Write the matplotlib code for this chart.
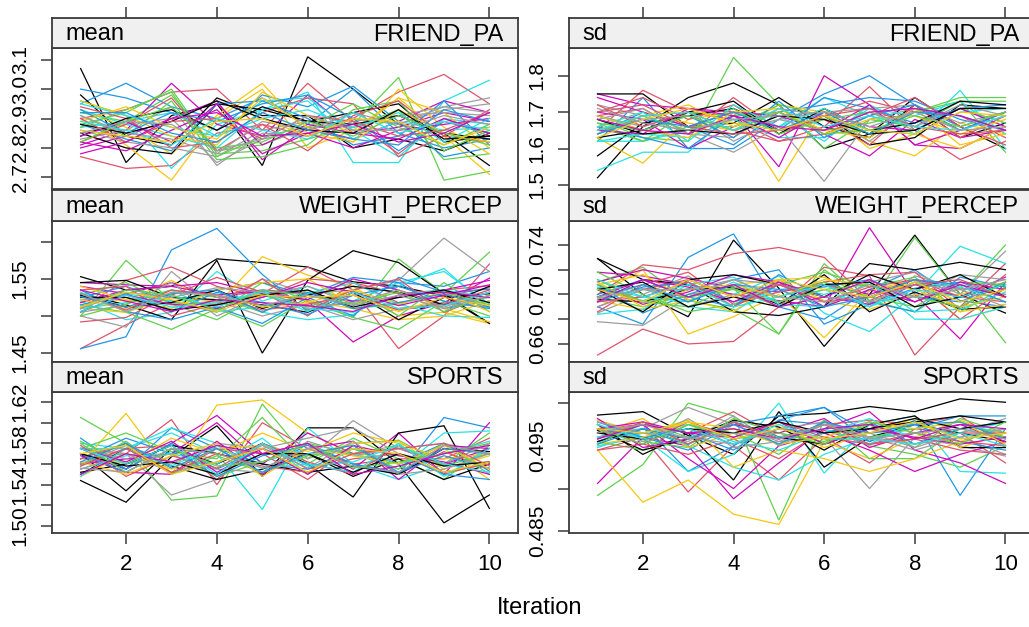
import matplotlib
matplotlib.use("Agg")
import matplotlib.pyplot as plt

plt.rcParams["font.family"] = ["Liberation Sans", "DejaVu Sans"]

ITERATIONS = [1, 2, 3, 4, 5, 6, 7, 8, 9, 10]
VARIABLES = ["FRIEND_PA", "WEIGHT_PERCEP", "SPORTS"]
STATS = ["mean", "sd"]

# R default palette, recycled over the imputation streams
PALETTE = ["black", "#DF536B", "#61D04F", "#2297E6",
           "#28E2E5", "#CD0BBC", "#F5C710", "#9E9E9E"]

friend_pa_mean = [
    [3.07, 2.75, 2.91, 2.95, 2.74, 3.11, 3.00, 2.88, 2.85, 2.74],
    [2.77, 2.73, 2.74, 2.85, 2.88, 2.84, 2.90, 2.99, 3.05, 2.95],
    [2.92, 2.89, 2.98, 2.79, 2.81, 2.87, 2.88, 3.04, 2.69, 2.72],
    [2.95, 3.02, 2.94, 2.90, 2.97, 2.88, 3.00, 2.85, 2.80, 2.83],
    [2.96, 2.91, 2.73, 2.88, 2.93, 2.99, 2.75, 2.75, 2.96, 3.03],
    [2.81, 2.86, 3.02, 2.88, 2.84, 2.98, 2.85, 2.87, 2.92, 2.89],
    [2.90, 2.81, 2.69, 2.90, 3.00, 2.80, 2.86, 2.97, 2.84, 2.71],
    [2.85, 2.88, 2.90, 2.75, 2.83, 2.86, 2.90, 2.88, 2.93, 2.95],
    [2.98, 2.84, 2.81, 2.97, 2.91, 2.91, 2.80, 2.83, 2.79, 2.85],
    [2.90, 2.93, 2.99, 3.00, 2.86, 3.02, 2.89, 2.78, 2.90, 2.84],
    [2.88, 2.92, 3.00, 2.78, 2.79, 2.83, 2.87, 2.93, 2.76, 2.78],
    [3.00, 2.97, 2.92, 2.86, 2.98, 2.94, 3.01, 2.89, 2.77, 2.80],
    [2.87, 2.89, 2.92, 2.84, 2.96, 2.97, 2.86, 2.77, 2.90, 2.88],
    [2.80, 2.84, 2.90, 2.96, 2.76, 2.87, 2.83, 2.89, 2.96, 2.92],
    [2.93, 2.87, 2.78, 2.91, 3.02, 2.85, 2.82, 3.00, 2.87, 2.78],
    [2.83, 2.86, 2.94, 2.74, 2.85, 2.84, 2.89, 2.91, 2.94, 2.97],
    [2.85, 2.80, 2.78, 2.95, 2.93, 2.89, 2.92, 2.95, 2.82, 2.84],
    [2.94, 2.90, 2.80, 2.82, 2.92, 2.97, 2.95, 2.77, 2.84, 2.93],
    [2.91, 2.84, 2.96, 2.76, 2.77, 2.81, 2.93, 2.96, 2.79, 2.86],
    [2.88, 2.83, 2.79, 2.95, 2.96, 2.90, 2.81, 2.84, 2.96, 2.81],
    [2.93, 2.88, 2.84, 2.80, 2.93, 2.96, 2.83, 2.89, 2.86, 2.87],
    [2.82, 2.79, 2.86, 2.93, 2.78, 2.85, 2.80, 2.86, 2.88, 2.90],
    [2.96, 2.91, 2.84, 2.81, 2.99, 2.91, 2.85, 2.97, 2.92, 2.80],
    [2.86, 2.82, 2.80, 2.77, 2.86, 2.89, 2.87, 2.91, 2.92, 2.91],
    [2.84, 2.90, 2.93, 2.86, 2.94, 2.89, 2.88, 2.91, 2.85, 2.83],
    [2.82, 2.88, 2.97, 2.79, 2.88, 2.79, 2.91, 2.96, 2.84, 2.82],
    [2.87, 2.93, 2.99, 2.77, 2.84, 2.87, 2.95, 2.87, 2.81, 2.88],
    [2.93, 2.85, 2.92, 2.89, 2.95, 2.98, 2.90, 2.79, 2.89, 2.85],
    [2.95, 2.91, 2.87, 2.84, 2.90, 2.93, 2.87, 2.92, 2.82, 2.90],
    [2.84, 2.89, 2.82, 2.95, 2.81, 2.88, 2.85, 2.83, 2.90, 2.85],
    [2.89, 2.94, 2.87, 2.83, 2.97, 2.87, 2.82, 2.93, 2.85, 2.82],
    [2.91, 2.85, 2.83, 2.78, 2.89, 2.86, 2.92, 2.88, 2.94, 2.92],
    [2.88, 2.85, 2.89, 2.96, 2.90, 2.86, 2.85, 2.93, 2.83, 2.84],
    [2.90, 2.82, 2.89, 2.90, 2.83, 2.91, 2.89, 2.84, 2.86, 2.92],
    [2.82, 2.89, 2.94, 2.80, 2.82, 2.89, 2.84, 2.91, 2.85, 2.81],
    [2.92, 2.92, 2.85, 2.82, 2.92, 2.86, 2.83, 2.81, 2.93, 2.89],
    [2.89, 2.86, 2.81, 2.90, 2.86, 2.83, 2.92, 2.85, 2.89, 2.86],
    [2.78, 2.82, 2.90, 2.92, 2.84, 2.85, 2.88, 2.82, 2.85, 2.92],
    [2.86, 2.84, 2.82, 2.89, 2.90, 2.84, 2.90, 2.89, 2.81, 2.87],
    [2.85, 2.89, 2.88, 2.79, 2.83, 2.91, 2.86, 2.86, 2.91, 2.88],
]

friend_pa_sd = [
    [1.52, 1.66, 1.74, 1.78, 1.72, 1.60, 1.64, 1.74, 1.66, 1.60],
    [1.65, 1.76, 1.70, 1.68, 1.62, 1.66, 1.77, 1.65, 1.57, 1.62],
    [1.68, 1.63, 1.62, 1.85, 1.72, 1.60, 1.68, 1.66, 1.73, 1.73],
    [1.62, 1.74, 1.60, 1.60, 1.68, 1.75, 1.80, 1.72, 1.66, 1.70],
    [1.54, 1.59, 1.59, 1.70, 1.66, 1.74, 1.69, 1.64, 1.76, 1.60],
    [1.75, 1.72, 1.71, 1.70, 1.55, 1.80, 1.72, 1.61, 1.60, 1.66],
    [1.63, 1.56, 1.68, 1.70, 1.51, 1.71, 1.62, 1.58, 1.67, 1.64],
    [1.72, 1.69, 1.64, 1.59, 1.66, 1.51, 1.68, 1.71, 1.65, 1.69],
    [1.75, 1.75, 1.66, 1.67, 1.74, 1.66, 1.63, 1.72, 1.63, 1.67],
    [1.70, 1.74, 1.68, 1.72, 1.64, 1.69, 1.73, 1.70, 1.69, 1.63],
    [1.66, 1.62, 1.70, 1.69, 1.70, 1.65, 1.67, 1.70, 1.73, 1.59],
    [1.64, 1.70, 1.66, 1.61, 1.70, 1.72, 1.74, 1.73, 1.68, 1.65],
    [1.62, 1.62, 1.65, 1.68, 1.69, 1.62, 1.72, 1.66, 1.71, 1.67],
    [1.70, 1.68, 1.60, 1.66, 1.70, 1.64, 1.58, 1.68, 1.63, 1.65],
    [1.66, 1.70, 1.67, 1.65, 1.72, 1.70, 1.60, 1.64, 1.60, 1.66],
    [1.69, 1.66, 1.70, 1.62, 1.68, 1.70, 1.71, 1.72, 1.67, 1.70],
    [1.58, 1.67, 1.69, 1.71, 1.65, 1.69, 1.61, 1.63, 1.72, 1.71],
    [1.69, 1.71, 1.64, 1.74, 1.65, 1.68, 1.61, 1.72, 1.63, 1.69],
    [1.67, 1.62, 1.66, 1.66, 1.72, 1.69, 1.64, 1.70, 1.74, 1.74],
    [1.66, 1.63, 1.60, 1.69, 1.65, 1.74, 1.71, 1.67, 1.71, 1.72],
    [1.62, 1.64, 1.63, 1.68, 1.63, 1.63, 1.71, 1.69, 1.73, 1.64],
    [1.74, 1.70, 1.66, 1.70, 1.69, 1.65, 1.72, 1.61, 1.65, 1.70],
    [1.64, 1.69, 1.72, 1.66, 1.70, 1.65, 1.63, 1.71, 1.61, 1.64],
    [1.68, 1.71, 1.64, 1.63, 1.71, 1.69, 1.62, 1.71, 1.69, 1.65],
    [1.63, 1.65, 1.70, 1.73, 1.64, 1.71, 1.65, 1.67, 1.73, 1.72],
    [1.72, 1.66, 1.70, 1.65, 1.62, 1.64, 1.69, 1.74, 1.66, 1.61],
    [1.64, 1.69, 1.65, 1.71, 1.64, 1.68, 1.70, 1.65, 1.71, 1.67],
    [1.69, 1.65, 1.69, 1.63, 1.73, 1.63, 1.69, 1.72, 1.65, 1.70],
    [1.66, 1.70, 1.62, 1.72, 1.66, 1.71, 1.65, 1.64, 1.70, 1.71],
    [1.65, 1.64, 1.71, 1.69, 1.63, 1.70, 1.66, 1.65, 1.71, 1.66],
    [1.69, 1.65, 1.63, 1.70, 1.71, 1.64, 1.68, 1.69, 1.64, 1.68],
    [1.65, 1.68, 1.69, 1.65, 1.68, 1.65, 1.70, 1.66, 1.72, 1.69],
    [1.68, 1.64, 1.65, 1.64, 1.69, 1.68, 1.64, 1.65, 1.71, 1.71],
    [1.70, 1.72, 1.66, 1.64, 1.65, 1.69, 1.71, 1.66, 1.64, 1.65],
    [1.67, 1.65, 1.69, 1.65, 1.70, 1.64, 1.65, 1.69, 1.66, 1.70],
    [1.64, 1.68, 1.66, 1.70, 1.65, 1.70, 1.64, 1.70, 1.69, 1.65],
    [1.65, 1.69, 1.70, 1.65, 1.71, 1.66, 1.69, 1.66, 1.65, 1.69],
    [1.68, 1.65, 1.64, 1.69, 1.66, 1.65, 1.70, 1.71, 1.69, 1.65],
    [1.63, 1.68, 1.71, 1.67, 1.65, 1.69, 1.65, 1.64, 1.70, 1.69],
    [1.71, 1.67, 1.65, 1.68, 1.69, 1.70, 1.66, 1.70, 1.65, 1.66],
]

weight_percep_mean = [
    [1.553, 1.535, 1.540, 1.577, 1.572, 1.566, 1.546, 1.540, 1.527, 1.490],
    [1.456, 1.488, 1.518, 1.515, 1.530, 1.566, 1.535, 1.456, 1.500, 1.570],
    [1.500, 1.575, 1.520, 1.505, 1.545, 1.520, 1.498, 1.577, 1.530, 1.586],
    [1.456, 1.472, 1.589, 1.618, 1.556, 1.506, 1.520, 1.545, 1.540, 1.560],
    [1.520, 1.495, 1.505, 1.560, 1.520, 1.540, 1.520, 1.545, 1.560, 1.516],
    [1.540, 1.530, 1.545, 1.525, 1.534, 1.520, 1.465, 1.500, 1.518, 1.551],
    [1.525, 1.520, 1.548, 1.515, 1.580, 1.555, 1.540, 1.500, 1.505, 1.490],
    [1.500, 1.485, 1.560, 1.510, 1.550, 1.530, 1.535, 1.548, 1.605, 1.560],
    [1.530, 1.515, 1.495, 1.575, 1.450, 1.548, 1.588, 1.572, 1.530, 1.490],
    [1.510, 1.548, 1.566, 1.540, 1.525, 1.550, 1.545, 1.530, 1.535, 1.541],
    [1.515, 1.505, 1.482, 1.510, 1.486, 1.522, 1.498, 1.482, 1.520, 1.500],
    [1.525, 1.540, 1.518, 1.535, 1.545, 1.528, 1.552, 1.545, 1.510, 1.520],
    [1.505, 1.530, 1.520, 1.530, 1.505, 1.495, 1.502, 1.540, 1.564, 1.510],
    [1.545, 1.542, 1.540, 1.528, 1.535, 1.530, 1.520, 1.525, 1.535, 1.548],
    [1.510, 1.505, 1.525, 1.520, 1.530, 1.520, 1.510, 1.495, 1.500, 1.520],
    [1.522, 1.525, 1.515, 1.520, 1.500, 1.515, 1.495, 1.510, 1.515, 1.525],
    [1.545, 1.548, 1.525, 1.522, 1.515, 1.505, 1.532, 1.495, 1.525, 1.530],
    [1.492, 1.498, 1.528, 1.552, 1.532, 1.500, 1.545, 1.518, 1.527, 1.538],
    [1.528, 1.545, 1.516, 1.495, 1.528, 1.512, 1.535, 1.500, 1.545, 1.506],
    [1.535, 1.506, 1.495, 1.512, 1.490, 1.525, 1.500, 1.552, 1.532, 1.536],
    [1.510, 1.518, 1.535, 1.506, 1.512, 1.530, 1.545, 1.516, 1.500, 1.498],
    [1.518, 1.535, 1.540, 1.545, 1.530, 1.522, 1.550, 1.535, 1.515, 1.532],
    [1.540, 1.522, 1.510, 1.535, 1.545, 1.550, 1.515, 1.535, 1.510, 1.492],
    [1.505, 1.515, 1.545, 1.500, 1.528, 1.540, 1.516, 1.510, 1.518, 1.512],
    [1.528, 1.512, 1.518, 1.535, 1.510, 1.528, 1.540, 1.532, 1.515, 1.540],
    [1.535, 1.540, 1.500, 1.516, 1.550, 1.508, 1.535, 1.550, 1.505, 1.528],
    [1.500, 1.516, 1.535, 1.525, 1.505, 1.535, 1.510, 1.516, 1.532, 1.515],
    [1.515, 1.530, 1.506, 1.532, 1.518, 1.502, 1.528, 1.540, 1.520, 1.510],
    [1.532, 1.506, 1.528, 1.512, 1.535, 1.510, 1.505, 1.528, 1.535, 1.525],
    [1.506, 1.528, 1.516, 1.510, 1.525, 1.545, 1.532, 1.514, 1.528, 1.542],
    [1.522, 1.510, 1.532, 1.528, 1.512, 1.518, 1.535, 1.516, 1.532, 1.506],
    [1.510, 1.532, 1.525, 1.538, 1.532, 1.512, 1.518, 1.535, 1.512, 1.532],
    [1.525, 1.525, 1.508, 1.515, 1.528, 1.535, 1.512, 1.525, 1.535, 1.518],
    [1.530, 1.508, 1.535, 1.528, 1.508, 1.516, 1.528, 1.508, 1.516, 1.535],
    [1.512, 1.535, 1.528, 1.508, 1.535, 1.528, 1.516, 1.532, 1.506, 1.528],
    [1.526, 1.512, 1.530, 1.535, 1.505, 1.532, 1.510, 1.518, 1.530, 1.512],
    [1.506, 1.528, 1.512, 1.518, 1.532, 1.506, 1.532, 1.510, 1.514, 1.532],
    [1.535, 1.520, 1.506, 1.522, 1.518, 1.514, 1.506, 1.528, 1.532, 1.525],
    [1.512, 1.532, 1.522, 1.506, 1.528, 1.525, 1.528, 1.506, 1.525, 1.514],
    [1.530, 1.506, 1.532, 1.528, 1.514, 1.528, 1.514, 1.528, 1.510, 1.528],
]

weight_percep_sd = [
    [0.729, 0.700, 0.682, 0.744, 0.705, 0.658, 0.700, 0.748, 0.700, 0.685],
    [0.651, 0.672, 0.660, 0.662, 0.690, 0.722, 0.715, 0.651, 0.690, 0.725],
    [0.710, 0.722, 0.695, 0.688, 0.668, 0.725, 0.692, 0.746, 0.700, 0.740],
    [0.690, 0.676, 0.730, 0.749, 0.690, 0.680, 0.704, 0.720, 0.695, 0.690],
    [0.705, 0.695, 0.705, 0.700, 0.715, 0.685, 0.670, 0.700, 0.739, 0.725],
    [0.718, 0.715, 0.708, 0.700, 0.695, 0.690, 0.754, 0.700, 0.664, 0.710],
    [0.700, 0.720, 0.668, 0.682, 0.700, 0.665, 0.703, 0.712, 0.680, 0.690],
    [0.685, 0.700, 0.715, 0.690, 0.712, 0.690, 0.710, 0.718, 0.700, 0.735],
    [0.729, 0.712, 0.708, 0.686, 0.683, 0.690, 0.725, 0.720, 0.726, 0.720],
    [0.700, 0.724, 0.720, 0.733, 0.738, 0.730, 0.695, 0.710, 0.680, 0.705],
    [0.698, 0.690, 0.700, 0.705, 0.668, 0.720, 0.695, 0.686, 0.708, 0.661],
    [0.708, 0.685, 0.700, 0.712, 0.720, 0.676, 0.692, 0.705, 0.710, 0.698],
    [0.695, 0.705, 0.690, 0.686, 0.708, 0.700, 0.710, 0.680, 0.680, 0.690],
    [0.710, 0.720, 0.713, 0.705, 0.702, 0.708, 0.700, 0.712, 0.705, 0.700],
    [0.695, 0.688, 0.695, 0.708, 0.712, 0.695, 0.688, 0.700, 0.700, 0.710],
    [0.678, 0.675, 0.698, 0.705, 0.690, 0.710, 0.690, 0.715, 0.705, 0.700],
    [0.696, 0.694, 0.704, 0.706, 0.692, 0.716, 0.686, 0.702, 0.688, 0.690],
    [0.686, 0.708, 0.718, 0.692, 0.702, 0.710, 0.716, 0.718, 0.688, 0.716],
    [0.718, 0.700, 0.686, 0.692, 0.708, 0.718, 0.706, 0.714, 0.686, 0.706],
    [0.700, 0.712, 0.698, 0.690, 0.716, 0.698, 0.694, 0.686, 0.714, 0.706],
    [0.684, 0.688, 0.708, 0.714, 0.692, 0.690, 0.710, 0.686, 0.688, 0.702],
    [0.708, 0.692, 0.702, 0.716, 0.710, 0.698, 0.692, 0.708, 0.698, 0.714],
    [0.708, 0.716, 0.696, 0.686, 0.712, 0.714, 0.698, 0.712, 0.686, 0.692],
    [0.696, 0.708, 0.690, 0.700, 0.694, 0.708, 0.694, 0.698, 0.716, 0.712],
    [0.704, 0.686, 0.712, 0.716, 0.708, 0.698, 0.716, 0.704, 0.716, 0.698],
    [0.690, 0.704, 0.712, 0.698, 0.708, 0.694, 0.706, 0.712, 0.698, 0.694],
    [0.712, 0.694, 0.690, 0.706, 0.698, 0.710, 0.698, 0.690, 0.710, 0.708],
    [0.694, 0.706, 0.710, 0.694, 0.704, 0.706, 0.712, 0.698, 0.694, 0.710],
    [0.706, 0.698, 0.694, 0.710, 0.694, 0.704, 0.690, 0.710, 0.706, 0.694],
    [0.698, 0.712, 0.706, 0.694, 0.710, 0.690, 0.704, 0.694, 0.710, 0.704],
    [0.710, 0.690, 0.704, 0.708, 0.698, 0.712, 0.708, 0.704, 0.690, 0.698],
    [0.690, 0.704, 0.698, 0.712, 0.708, 0.698, 0.694, 0.708, 0.704, 0.690],
    [0.704, 0.710, 0.690, 0.698, 0.690, 0.708, 0.710, 0.690, 0.698, 0.708],
    [0.694, 0.698, 0.710, 0.690, 0.708, 0.694, 0.698, 0.708, 0.712, 0.698],
    [0.708, 0.694, 0.698, 0.704, 0.694, 0.704, 0.708, 0.698, 0.690, 0.710],
    [0.698, 0.708, 0.694, 0.708, 0.704, 0.690, 0.698, 0.712, 0.708, 0.694],
    [0.712, 0.698, 0.708, 0.690, 0.698, 0.708, 0.690, 0.704, 0.698, 0.708],
    [0.694, 0.712, 0.698, 0.708, 0.690, 0.698, 0.712, 0.694, 0.708, 0.698],
    [0.704, 0.694, 0.712, 0.698, 0.712, 0.704, 0.698, 0.710, 0.694, 0.704],
    [0.698, 0.704, 0.704, 0.712, 0.698, 0.694, 0.708, 0.698, 0.704, 0.712],
]

sports_mean = [
    [1.544, 1.523, 1.567, 1.597, 1.548, 1.595, 1.595, 1.560, 1.503, 1.530],
    [1.575, 1.570, 1.603, 1.540, 1.600, 1.575, 1.560, 1.565, 1.565, 1.585],
    [1.605, 1.580, 1.525, 1.529, 1.618, 1.565, 1.580, 1.583, 1.560, 1.590],
    [1.585, 1.555, 1.595, 1.575, 1.550, 1.580, 1.560, 1.550, 1.605, 1.595],
    [1.580, 1.575, 1.590, 1.570, 1.516, 1.595, 1.560, 1.545, 1.560, 1.570],
    [1.570, 1.555, 1.580, 1.607, 1.570, 1.580, 1.555, 1.590, 1.550, 1.600],
    [1.560, 1.609, 1.550, 1.617, 1.622, 1.590, 1.570, 1.560, 1.575, 1.545],
    [1.565, 1.570, 1.530, 1.545, 1.580, 1.565, 1.602, 1.575, 1.580, 1.570],
    [1.570, 1.534, 1.575, 1.560, 1.580, 1.560, 1.528, 1.590, 1.597, 1.517],
    [1.560, 1.575, 1.578, 1.545, 1.580, 1.555, 1.565, 1.570, 1.550, 1.562],
    [1.575, 1.590, 1.572, 1.565, 1.605, 1.560, 1.585, 1.565, 1.545, 1.578],
    [1.565, 1.585, 1.570, 1.575, 1.560, 1.555, 1.575, 1.560, 1.580, 1.553],
    [1.575, 1.575, 1.595, 1.580, 1.562, 1.575, 1.570, 1.555, 1.590, 1.592],
    [1.560, 1.565, 1.570, 1.600, 1.560, 1.590, 1.570, 1.575, 1.560, 1.575],
    [1.570, 1.560, 1.585, 1.570, 1.590, 1.572, 1.590, 1.580, 1.565, 1.570],
    [1.575, 1.565, 1.560, 1.580, 1.575, 1.585, 1.595, 1.570, 1.560, 1.580],
    [1.550, 1.575, 1.558, 1.545, 1.555, 1.570, 1.548, 1.565, 1.545, 1.560],
    [1.565, 1.580, 1.550, 1.575, 1.570, 1.545, 1.578, 1.550, 1.572, 1.555],
    [1.582, 1.560, 1.570, 1.548, 1.562, 1.580, 1.570, 1.578, 1.558, 1.570],
    [1.575, 1.555, 1.580, 1.555, 1.575, 1.560, 1.552, 1.570, 1.550, 1.545],
    [1.555, 1.568, 1.570, 1.560, 1.585, 1.550, 1.575, 1.560, 1.570, 1.582],
    [1.568, 1.552, 1.550, 1.582, 1.550, 1.575, 1.582, 1.545, 1.578, 1.575],
    [1.548, 1.570, 1.555, 1.575, 1.578, 1.568, 1.580, 1.582, 1.555, 1.568],
    [1.560, 1.578, 1.562, 1.555, 1.552, 1.582, 1.568, 1.575, 1.560, 1.580],
    [1.552, 1.560, 1.578, 1.570, 1.560, 1.552, 1.558, 1.550, 1.575, 1.572],
    [1.578, 1.548, 1.568, 1.556, 1.580, 1.562, 1.550, 1.578, 1.552, 1.560],
    [1.558, 1.582, 1.550, 1.568, 1.552, 1.568, 1.575, 1.555, 1.580, 1.550],
    [1.570, 1.552, 1.575, 1.548, 1.568, 1.578, 1.560, 1.552, 1.568, 1.556],
    [1.548, 1.575, 1.558, 1.578, 1.556, 1.560, 1.552, 1.580, 1.548, 1.575],
    [1.575, 1.562, 1.582, 1.552, 1.575, 1.550, 1.578, 1.568, 1.562, 1.550],
    [1.562, 1.550, 1.568, 1.580, 1.548, 1.575, 1.568, 1.560, 1.578, 1.555],
    [1.555, 1.570, 1.552, 1.562, 1.578, 1.556, 1.582, 1.550, 1.555, 1.570],
    [1.570, 1.558, 1.562, 1.550, 1.570, 1.570, 1.552, 1.570, 1.558, 1.562],
    [1.558, 1.575, 1.552, 1.570, 1.558, 1.552, 1.570, 1.575, 1.580, 1.558],
    [1.580, 1.552, 1.575, 1.558, 1.562, 1.580, 1.556, 1.562, 1.570, 1.580],
    [1.562, 1.580, 1.556, 1.575, 1.552, 1.570, 1.578, 1.552, 1.575, 1.570],
    [1.575, 1.560, 1.578, 1.550, 1.580, 1.558, 1.562, 1.578, 1.560, 1.552],
    [1.550, 1.570, 1.562, 1.578, 1.570, 1.580, 1.550, 1.558, 1.570, 1.578],
    [1.570, 1.578, 1.550, 1.562, 1.575, 1.552, 1.575, 1.570, 1.552, 1.562],
    [1.556, 1.552, 1.575, 1.570, 1.556, 1.575, 1.558, 1.552, 1.578, 1.570],
]

sports_sd = [
    [0.4986, 0.4990, 0.4962, 0.4940, 0.4985, 0.4988, 0.4996, 0.4990, 0.5005, 0.5001],
    [0.4945, 0.4960, 0.4896, 0.4950, 0.4910, 0.4960, 0.4930, 0.4970, 0.4965, 0.4930],
    [0.4892, 0.4928, 0.5000, 0.4985, 0.4863, 0.4980, 0.4950, 0.4940, 0.4925, 0.4950],
    [0.4960, 0.4975, 0.4920, 0.4950, 0.4980, 0.4995, 0.4955, 0.4980, 0.4892, 0.4970],
    [0.4950, 0.4960, 0.4920, 0.4940, 0.5000, 0.4918, 0.4975, 0.4985, 0.4920, 0.4918],
    [0.4906, 0.4960, 0.4950, 0.4888, 0.4930, 0.4970, 0.4990, 0.4945, 0.4930, 0.4906],
    [0.4945, 0.4884, 0.4910, 0.4870, 0.4858, 0.4955, 0.4935, 0.4960, 0.4980, 0.4960],
    [0.4965, 0.4970, 0.4995, 0.4975, 0.4955, 0.4960, 0.4900, 0.4960, 0.4950, 0.4938],
    [0.4975, 0.4940, 0.4965, 0.4910, 0.4990, 0.4925, 0.4960, 0.4975, 0.4965, 0.4955],
    [0.4970, 0.4975, 0.4965, 0.4990, 0.4960, 0.4975, 0.4980, 0.4975, 0.4985, 0.4950],
    [0.4955, 0.4945, 0.4975, 0.4965, 0.4940, 0.4980, 0.4935, 0.4935, 0.4970, 0.4960],
    [0.4970, 0.4960, 0.4945, 0.4975, 0.4985, 0.4995, 0.4965, 0.4970, 0.4985, 0.4985],
    [0.4960, 0.4970, 0.4950, 0.4925, 0.4910, 0.4940, 0.4960, 0.4965, 0.4975, 0.4965],
    [0.4965, 0.4975, 0.4935, 0.4900, 0.4950, 0.4965, 0.4945, 0.4920, 0.4940, 0.4955],
    [0.4980, 0.4965, 0.4980, 0.4925, 0.4945, 0.4935, 0.4920, 0.4935, 0.4955, 0.4970],
    [0.4960, 0.4965, 0.4955, 0.4985, 0.4950, 0.4975, 0.4960, 0.4945, 0.4960, 0.4940],
    [0.4968, 0.4945, 0.4958, 0.4980, 0.4972, 0.4945, 0.4975, 0.4985, 0.4948, 0.4948],
    [0.4945, 0.4952, 0.4940, 0.4958, 0.4935, 0.4968, 0.4952, 0.4958, 0.4945, 0.4940],
    [0.4975, 0.4955, 0.4948, 0.4982, 0.4965, 0.4955, 0.4975, 0.4948, 0.4982, 0.4965],
    [0.4955, 0.4975, 0.4965, 0.4945, 0.4980, 0.4975, 0.4955, 0.4975, 0.4955, 0.4945],
    [0.4948, 0.4965, 0.4975, 0.4955, 0.4945, 0.4965, 0.4982, 0.4958, 0.4965, 0.4978],
    [0.4982, 0.4948, 0.4958, 0.4975, 0.4965, 0.4982, 0.4948, 0.4965, 0.4975, 0.4955],
    [0.4965, 0.4982, 0.4948, 0.4965, 0.4975, 0.4948, 0.4965, 0.4982, 0.4948, 0.4965],
    [0.4975, 0.4955, 0.4982, 0.4948, 0.4955, 0.4975, 0.4965, 0.4948, 0.4965, 0.4982],
    [0.4955, 0.4970, 0.4952, 0.4978, 0.4960, 0.4952, 0.4970, 0.4978, 0.4985, 0.4978],
    [0.4970, 0.4952, 0.4978, 0.4960, 0.4978, 0.4960, 0.4952, 0.4965, 0.4955, 0.4950],
    [0.4952, 0.4978, 0.4960, 0.4970, 0.4952, 0.4978, 0.4960, 0.4970, 0.4978, 0.4960],
    [0.4978, 0.4960, 0.4970, 0.4952, 0.4970, 0.4965, 0.4978, 0.4952, 0.4970, 0.4978],
    [0.4960, 0.4970, 0.4952, 0.4978, 0.4960, 0.4970, 0.4952, 0.4978, 0.4960, 0.4970],
    [0.4970, 0.4978, 0.4965, 0.4960, 0.4978, 0.4952, 0.4970, 0.4960, 0.4952, 0.4960],
    [0.4952, 0.4960, 0.4978, 0.4970, 0.4952, 0.4960, 0.4978, 0.4970, 0.4978, 0.4952],
    [0.4978, 0.4965, 0.4960, 0.4952, 0.4970, 0.4978, 0.4960, 0.4952, 0.4960, 0.4970],
    [0.4965, 0.4958, 0.4970, 0.4965, 0.4978, 0.4965, 0.4970, 0.4982, 0.4970, 0.4978],
    [0.4958, 0.4978, 0.4952, 0.4978, 0.4958, 0.4975, 0.4952, 0.4958, 0.4965, 0.4965],
    [0.4970, 0.4952, 0.4975, 0.4958, 0.4965, 0.4952, 0.4978, 0.4965, 0.4952, 0.4978],
    [0.4952, 0.4970, 0.4958, 0.4975, 0.4952, 0.4978, 0.4965, 0.4975, 0.4978, 0.4958],
    [0.4975, 0.4958, 0.4970, 0.4952, 0.4975, 0.4958, 0.4958, 0.4952, 0.4965, 0.4950],
    [0.4958, 0.4975, 0.4965, 0.4970, 0.4958, 0.4970, 0.4975, 0.4958, 0.4975, 0.4970],
    [0.4970, 0.4965, 0.4978, 0.4958, 0.4970, 0.4958, 0.4965, 0.4978, 0.4958, 0.4965],
    [0.4965, 0.4975, 0.4958, 0.4965, 0.4958, 0.4975, 0.4958, 0.4965, 0.4970, 0.4958],
]

# panel data, y limits, tick positions and tick labels
PANELS = {
    ("FRIEND_PA", "mean"): (friend_pa_mean, (2.66, 3.14),
                            [2.7, 2.8, 2.9, 3.0, 3.1],
                            ["2.7", "2.8", "2.9", "3.0", "3.1"]),
    ("FRIEND_PA", "sd"): (friend_pa_sd, (1.489, 1.876),
                          [1.5, 1.6, 1.7, 1.8],
                          ["1.5", "1.6", "1.7", "1.8"]),
    ("WEIGHT_PERCEP", "mean"): (weight_percep_mean, (1.438, 1.628),
                                [1.45, 1.50, 1.55, 1.60],
                                ["1.45", "", "1.55", ""]),
    ("WEIGHT_PERCEP", "sd"): (weight_percep_sd, (0.6454, 0.7594),
                              [0.66, 0.68, 0.70, 0.72, 0.74],
                              ["0.66", "", "0.70", "", "0.74"]),
    ("SPORTS", "mean"): (sports_mean, (1.4932, 1.6297),
                         [1.50, 1.52, 1.54, 1.56, 1.58, 1.60, 1.62],
                         ["1.50", "", "1.54", "", "1.58", "", "1.62"]),
    ("SPORTS", "sd"): (sports_sd, (0.4848, 0.5013),
                       [0.485, 0.490, 0.495, 0.500],
                       ["0.485", "", "0.495", ""]),
}

W, H = 1029, 627
COL_X = [(52, 518), (569, 1034)]
ROW_Y = [(18, 48, 189), (190, 221, 362), (362, 392, 533)]
XTICKS = [2, 4, 6, 8, 10]
FRAME = "#3a3a3a"

fig = plt.figure(figsize=(W / 100, H / 100), dpi=100)
fig.patch.set_facecolor("white")


def px_axes(x0, y0, x1, y1):
    return fig.add_axes([x0 / W, 1 - y1 / H, (x1 - x0) / W, (y1 - y0) / H])


for r, var in enumerate(VARIABLES):
    strip_top, data_top, data_bot = ROW_Y[r]
    for c, stat in enumerate(STATS):
        x0, x1 = COL_X[c]
        series, ylim, yticks, ylabels = PANELS[(var, stat)]

        ax = px_axes(x0, data_top, x1, data_bot)
        for i, vals in enumerate(series):
            ax.plot(ITERATIONS, vals, color=PALETTE[i % len(PALETTE)],
                    lw=0.9, solid_joinstyle="miter")
        ax.set_xlim(0.37, 10.63)
        ax.set_ylim(*ylim)
        ax.set_yticks(yticks)
        ax.set_yticklabels(ylabels)
        ax.set_xticks(XTICKS)
        for sp in ax.spines.values():
            sp.set_color(FRAME)
            sp.set_linewidth(1.3)
        ax.tick_params(axis="y", direction="out", length=8, width=1.1,
                       color=FRAME, labelsize=15, pad=8, labelrotation=90)
        for t in ax.get_yticklabels():
            t.set_va("center")
        if r == len(VARIABLES) - 1:
            ax.tick_params(axis="x", direction="out", length=8, width=1.1,
                           color=FRAME, labelsize=16, pad=7)
        else:
            ax.tick_params(axis="x", length=0, labelbottom=False)

        # strip with the statistic on the left and the variable on the right
        sx = px_axes(x0, strip_top, x1, data_top)
        sx.set_facecolor("#F0F0F0")
        sx.set_xlim(0.37, 10.63)
        sx.set_ylim(0, 1)
        sx.set_yticks([])
        for sp in sx.spines.values():
            sp.set_color(FRAME)
            sp.set_linewidth(1.3)
        if r == 0:
            sx.set_xticks(XTICKS)
            sx.tick_params(axis="x", bottom=False, top=True, direction="out",
                           length=8, width=1.1, color=FRAME,
                           labelbottom=False, labeltop=False)
        else:
            sx.set_xticks([])
        sx.text(13 / (x1 - x0), 0.45, stat, transform=sx.transAxes,
                ha="left", va="center", fontsize=17)
        sx.text(1 - 15 / (x1 - x0), 0.45, var, transform=sx.transAxes,
                ha="right", va="center", fontsize=17)

fig.text(540 / W, 1 - 608 / H, "Iteration", ha="center", va="center",
         fontsize=17)

fig.savefig("out.png", dpi=100)
